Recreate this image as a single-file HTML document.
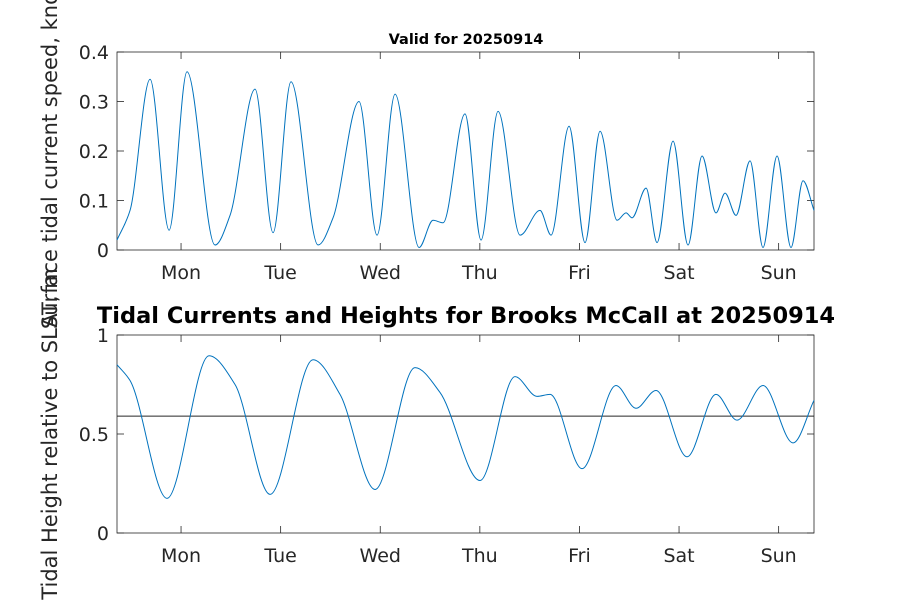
<!DOCTYPE html>
<html><head><meta charset="utf-8"><style>
html,body{margin:0;padding:0;background:#fff;}
svg{display:block;font-family:"DejaVu Sans","Liberation Sans",sans-serif;}
</style></head><body>
<svg id="fig" width="900" height="600" viewBox="0 0 900 600">
<rect width="900" height="600" fill="#fff"/>
<g id="top"></g>
<g id="bot"></g>
<text x="466" y="44" text-anchor="middle" font-size="14.5" font-weight="bold">Valid for 20250914</text>
<text x="466" y="323" text-anchor="middle" font-size="22.5" font-weight="bold">Tidal Currents and Heights for Brooks McCall at 20250914</text>
<text transform="translate(57,151) rotate(-90)" text-anchor="middle" font-size="21" fill="#262626">Surface tidal current speed, knots</text>
<text transform="translate(57,434) rotate(-90)" text-anchor="middle" font-size="21" fill="#262626">Tidal Height relative to SLAT, m</text>
</svg>
<script>
const dayLabels = ["Mon","Tue","Wed","Thu","Fri","Sat","Sun"];
const speedTimes = [-0.643,-0.512,-0.311,-0.120,0.060,0.341,0.492,0.743,0.924,1.104,1.376,1.526,1.787,1.968,2.149,2.390,2.530,2.631,2.851,3.012,3.183,3.404,3.604,3.715,3.896,4.056,4.207,4.378,4.468,4.528,4.669,4.779,4.940,5.090,5.231,5.371,5.462,5.572,5.713,5.843,5.984,6.124,6.245,6.355];
const speedValues = [0.02,0.08,0.345,0.04,0.36,0.01,0.07,0.325,0.035,0.34,0.01,0.065,0.30,0.03,0.315,0.005,0.06,0.055,0.275,0.02,0.28,0.03,0.08,0.03,0.25,0.015,0.24,0.06,0.075,0.065,0.125,0.015,0.22,0.01,0.19,0.075,0.115,0.07,0.18,0.005,0.19,0.005,0.14,0.08];
const heightTimes = [-0.643,-0.512,-0.141,0.281,0.542,0.894,1.325,1.596,1.948,2.349,2.600,3.002,3.353,3.574,3.705,4.026,4.367,4.568,4.769,5.080,5.371,5.582,5.843,6.145,6.355];
const heightValues = [0.85,0.77,0.175,0.895,0.75,0.195,0.875,0.70,0.22,0.835,0.71,0.265,0.79,0.69,0.70,0.325,0.745,0.63,0.72,0.385,0.70,0.57,0.745,0.455,0.67];
const meanHeight = [0.59];
const speedTicks = [0,0.1,0.2,0.3,0.4];
const speedTickLabels = ["0","0.1","0.2","0.3","0.4"];
const heightTicks = [0,0.5,1];
const heightTickLabels = ["0","0.5","1"];

const NS="http://www.w3.org/2000/svg";
const X0=117,X1=814,D0=-0.643,D1=6.355;
function xs(d){return X0+(d-D0)/(D1-D0)*(X1-X0);}
function mk(tag,attrs,parent){const e=document.createElementNS(NS,tag);for(const k in attrs)e.setAttribute(k,attrs[k]);parent.appendChild(e);return e;}
// monotone cubic (Fritsch-Carlson) to avoid overshoot
function smooth(pts){
  const n=pts.length,dx=[],s=[],m=[];
  for(let i=0;i<n-1;i++){dx[i]=pts[i+1][0]-pts[i][0];s[i]=(pts[i+1][1]-pts[i][1])/dx[i];}
  m[0]=s[0];m[n-1]=s[n-2];
  for(let i=1;i<n-1;i++){
    if(s[i-1]*s[i]<=0)m[i]=0;
    else{const w1=2*dx[i]+dx[i-1],w2=dx[i]+2*dx[i-1];m[i]=(w1+w2)/(w1/s[i-1]+w2/s[i]);}
  }
  let d="M"+pts[0][0]+","+pts[0][1];
  for(let i=0;i<n-1;i++){
    const h=dx[i]/3;
    d+=" C"+(pts[i][0]+h)+","+(pts[i][1]+m[i]*h)+" "+(pts[i+1][0]-h)+","+(pts[i+1][1]-m[i+1]*h)+" "+pts[i+1][0]+","+pts[i+1][1];
  }
  return d;
}
function panel(g,top,bottom,ymax,ticks,tickLabels,times,vals,hline,prefix){
  const ys=v=>bottom-v/ymax*(bottom-top);
  const box=mk("rect",{x:X0,y:top,width:X1-X0,height:bottom-top,fill:"#fff",stroke:"#262626","stroke-width":0.8},g);
  
  
  ticks.forEach((v,i)=>{
    const y=ys(v);
    mk("line",{x1:X0,x2:X0+7,y1:y,y2:y,stroke:"#262626","stroke-width":0.8},g);
    mk("line",{x1:X1,x2:X1-7,y1:y,y2:y,stroke:"#262626","stroke-width":0.8},g);
    const t=mk("text",{x:X0-8,y:y+7,"text-anchor":"end","font-size":19,fill:"#262626"},g);
    t.textContent=tickLabels[i];
    
    
  });
  dayLabels.forEach((lab,i)=>{
    const x=xs(i);
    mk("line",{x1:x,x2:x,y1:bottom,y2:bottom-7,stroke:"#262626","stroke-width":0.8},g);
    mk("line",{x1:x,x2:x,y1:top,y2:top+7,stroke:"#262626","stroke-width":0.8},g);
    const t=mk("text",{x:x,y:bottom+29,"text-anchor":"middle","font-size":19,fill:"#262626"},g);
    t.textContent=lab;
    
    
  });
  if(hline!==null){
    const l=mk("line",{x1:X0,x2:X1,y1:ys(hline),y2:ys(hline),stroke:"#262626","stroke-width":1},g);
    
    
  }
  const pts=times.map((t,i)=>[xs(t),ys(vals[i])]);
  const p=mk("path",{d:smooth(pts),fill:"none",stroke:"#0072BD","stroke-width":1},g);
  
  
}
panel(document.getElementById("top"),52,250,0.4,speedTicks,speedTickLabels,speedTimes,speedValues,null,"speed");
panel(document.getElementById("bot"),335,533,1,heightTicks,heightTickLabels,heightTimes,heightValues,meanHeight[0],"height");
</script>
</body></html>
